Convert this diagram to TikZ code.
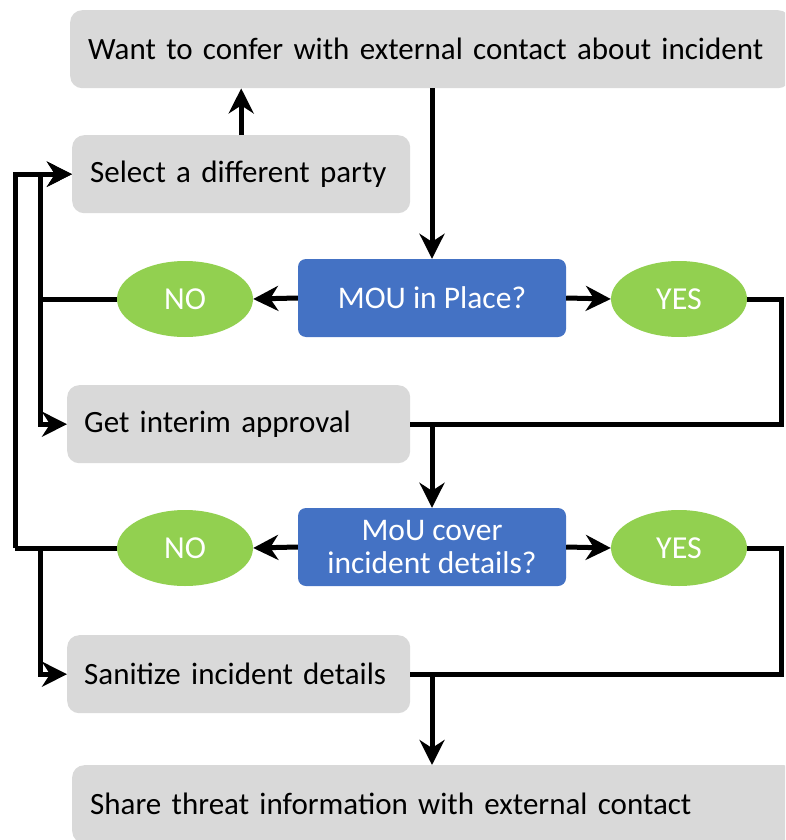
\documentclass[tikz,border=0pt]{standalone}
\usepackage{fontspec}
\setmainfont{Carlito}
\usetikzlibrary{shapes.geometric,arrows.meta}
\definecolor{boxgray}{HTML}{D9D9D9}
\definecolor{decblue}{HTML}{4472C4}
\definecolor{okgreen}{HTML}{92D050}
\tikzset{
  stepbox/.style={fill=boxgray, rounded corners=12pt, inner xsep=18pt, inner ysep=0pt,
    minimum height=78pt, align=left, anchor=north west,
    font=\fontsize{31}{34}\selectfont},
  decision/.style={fill=decblue, rounded corners=8pt, inner sep=0pt,
    minimum width=268pt, minimum height=78pt, align=center, text=white,
    font=\fontsize{31.5}{33}\selectfont},
  answer/.style={ellipse, fill=okgreen, inner sep=0pt, minimum width=136pt,
    minimum height=76pt, text=white, font=\fontsize{32}{34}\selectfont},
  link/.style={line width=5pt},
  arr/.style={line width=5pt, -{Stealth[length=25pt, width=25pt, inset=8pt]}},
}
\begin{document}
\begin{tikzpicture}[x=1pt, y=-1pt]
\useasboundingbox (0,0) rectangle (785,840);
\clip (0,0) rectangle (785,840);

% process steps
\node[stepbox, text width=684pt] (top) at (70,10) {Want to confer with external contact about incident};
\node[stepbox, text width=302pt] (sel) at (72,135) {Select a different party};
\node[stepbox, inner xsep=17pt, text width=309pt] (get) at (67,385) {Get interim approval};
\node[stepbox, inner xsep=17pt, text width=309pt] (san) at (67,635) {Sanitize incident details};
\node[stepbox, text width=688pt] (bot) at (72,765) {Share threat information with external contact};

% decisions and answers
\node[decision] (mou1) at (432,298) {MOU in Place?};
\node[decision] (mou2) at (432,547) {MoU cover\\incident details?};
\node[answer] (no1) at (185,299) {NO};
\node[answer] (yes1) at (679,299) {YES};
\node[answer] (no2) at (185,548) {NO};
\node[answer] (yes2) at (679,548) {YES};

% trunk positions for the return lines
\coordinate (inner) at (40,0);
\coordinate (outer) at (15,0);
\coordinate (rail) at (781,0);

% main flow
\draw[arr] (sel.north) -- (sel.north |- top.south);
\draw[arr] (top.south -| mou1.north) -- (mou1.north);
\draw[arr] (mou1.west) -- (no1.east);
\draw[arr] (mou1.east) -- (yes1.west);
\draw[arr] (mou2.west) -- (no2.east);
\draw[arr] (mou2.east) -- (yes2.west);

% first decision: NO branch
\draw[link] (no1.west) -- (no1.west -| inner);
\draw[arr] (no1.west -| inner) |- (sel.west);
\draw[arr] (no1.west -| inner) |- (get.west);

% first decision: YES branch and interim approval join
\draw[link] (yes1.east) -- (yes1.east -| rail) |- (get.east -| mou2.north);
\draw[link] (get.east) -- (get.east -| mou2.north);
\draw[arr] (get.east -| mou2.north) -- (mou2.north);

% second decision: NO branch
\draw[link] (no2.west) -- (no2.west -| outer);
\draw[arr] (no2.west -| outer) |- (sel.west);
\draw[arr] (no2.west -| inner) |- (san.west);

% second decision: YES branch and sanitize join
\draw[link] (yes2.east) -- (yes2.east -| rail) |- (san.east -| mou2.south);
\draw[link] (san.east) -- (san.east -| mou2.south);
\draw[arr] (san.east -| mou2.south) -- (bot.north -| mou2.south);
\end{tikzpicture}
\end{document}
